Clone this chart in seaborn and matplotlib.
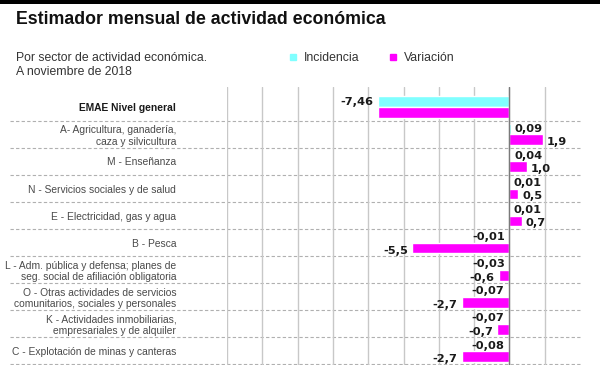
import matplotlib
matplotlib.use("Agg")
import matplotlib.pyplot as plt
import matplotlib.transforms as mtransforms
from matplotlib.lines import Line2D
from matplotlib.patches import Rectangle
import pandas as pd
import seaborn as sns

# Data
sectores = [
    "EMAE Nivel general",
    "A- Agricultura, ganadería,\ncaza y silvicultura",
    "M - Enseñanza",
    "N - Servicios sociales y de salud",
    "E - Electricidad, gas y agua",
    "B - Pesca",
    "L - Adm. pública y defensa; planes de\nseg. social de afiliación obligatoria",
    "O - Otras actividades de servicios\ncomunitarios, sociales y personales",
    "K - Actividades inmobiliarias,\nempresariales y de alquiler",
    "C - Explotación de minas y canteras",
]
incidencia = [-7.46, 0.09, 0.04, 0.01, 0.01, -0.01, -0.03, -0.07, -0.07, -0.08]
variacion = [-7.46, 1.9, 1.0, 0.5, 0.7, -5.5, -0.6, -2.7, -0.7, -2.7]
inc_labels = ["-7,46", "0,09", "0,04", "0,01", "0,01", "-0,01", "-0,03", "-0,07", "-0,07", "-0,08"]
var_labels = ["", "1,9", "1,0", "0,5", "0,7", "-5,5", "-0,6", "-2,7", "-0,7", "-2,7"]
series = ["Incidencia", "Variación"]
colores = ["#80ffff", "#ff00ff"]

df = pd.DataFrame({
    "sector": sectores * 2,
    "valor": incidencia + variacion,
    "serie": [series[0]] * len(sectores) + [series[1]] * len(sectores),
})

sns.set_theme(style="white")
plt.rcParams["font.family"] = ["Liberation Sans", "DejaVu Sans"]

fig = plt.figure(figsize=(6, 3.65), dpi=100)
ax = fig.add_axes([227 / 600, 0, 353 / 600, 278 / 365])

sns.barplot(data=df, x="valor", y="sector", hue="serie", orient="h",
            palette=colores, width=0.8, saturation=1, legend=False, ax=ax)

ax.set_xlim(-16, 4)
ax.set_ylim(9.52, -0.75)
ax.set_xlabel("")
ax.set_ylabel("")
sns.despine(ax=ax, left=True, bottom=True)

# vertical grid
ax.set_xticks(range(-16, 3, 2))
ax.tick_params(axis="x", length=0, labelbottom=False)
ax.grid(axis="x", color="#c8c8c8", lw=1)
ax.grid(axis="y", visible=False)
ax.axvline(0, color="#7a7a7a", lw=1, zorder=3)

# category labels
ax.tick_params(axis="y", length=0, pad=36.5, labelsize=7.4, labelcolor="#4a4a4a")
for lab in ax.get_yticklabels():
    lab.set_multialignment("right")
    lab.set_linespacing(1.15)
ax.get_yticklabels()[0].set_fontweight("bold")
ax.get_yticklabels()[0].set_color("#1a1a1a")

# dashed separators across label area
trans = mtransforms.blended_transform_factory(ax.transAxes, ax.transData)
for i in range(len(sectores)):
    ax.plot([-0.615, 1], [i + 0.5, i + 0.5], transform=trans, clip_on=False,
            color="#b0b0b0", lw=0.8, ls=(0, (3, 2)), zorder=0)

# value labels
lab_font = dict(fontsize=8.2, fontweight="bold", color="#1a1a1a",
                family=["DejaVu Sans"])
for k, (cont, vals, labs) in enumerate(zip(ax.containers, [incidencia, variacion],
                                           [inc_labels, var_labels])):
    for rect, val, txt in zip(cont, vals, labs):
        if not txt:
            continue
        yc = rect.get_y() + rect.get_height() / 2
        dx = 4 if val >= 0 else -4
        ax.annotate(txt, (val, yc), xytext=(dx, 0 if k == 0 else -2.5),
                    textcoords="offset pixels", ha="left" if val >= 0 else "right",
                    va="center", **lab_font)

# header
fig.add_artist(Rectangle((0, 1 - 3.5 / 365), 1, 3.5 / 365, transform=fig.transFigure,
                         color="black", lw=0))
fig.text(16 / 600, 1 - 20 / 365, "Estimador mensual de actividad económica",
         fontsize=12.8, fontweight="bold", color="#111111", va="center")
fig.text(16 / 600, 1 - 65 / 365, "Por sector de actividad económica.\nA noviembre de 2018",
         fontsize=8.8, color="#333333", va="center", linespacing=1.25)

handles = [Line2D([], [], marker="s", ls="", color=c, markersize=5) for c in colores]
fig.legend(handles, series, loc="center", bbox_to_anchor=(372 / 600, 1 - 58 / 365),
           ncol=2, frameon=False, fontsize=8.8, handlelength=0.6, handletextpad=0.6,
           columnspacing=2.4, labelcolor="#333333")

fig.savefig("out.png", dpi=100)
